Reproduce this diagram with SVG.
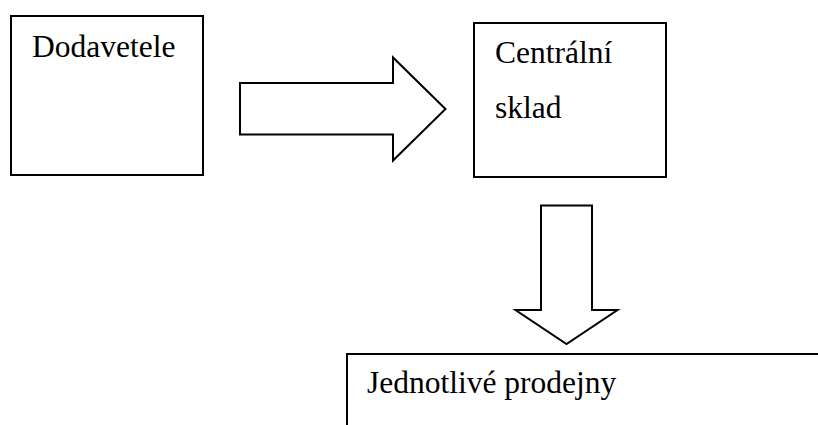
<svg xmlns="http://www.w3.org/2000/svg" width="818" height="425" viewBox="0 0 818 425">
<style>
.box{fill:#fff;stroke:#000;stroke-width:2}
.arr{fill:#fff;stroke:#000;stroke-width:2;stroke-linejoin:miter}
.t{font-family:'Liberation Serif','Times New Roman',serif;font-size:31.5px;fill:#000}
</style>
<rect width="818" height="425" fill="#fff"/>
<g id="dodavatele">
<rect class="box" x="11" y="16" width="192" height="159"/>
<text class="t" x="32" y="57">Dodavetele</text>
</g>
<g id="centralni-sklad">
<rect class="box" x="474" y="23" width="192" height="154"/>
<text class="t" x="495" y="63">Centrální</text>
<text class="t" x="495" y="118">sklad</text>
</g>
<g id="prodejny">
<path class="box" d="M347,426 V354 H819"/>
<text class="t" x="367" y="393">Jednotlivé prodejny</text>
</g>
<g id="connectors">
<polygon class="arr" points="240,83 393,83 393,57.5 445.5,109 393,160.5 393,134.5 240,134.5"/>
<polygon class="arr" points="541,205.5 592,205.5 592,310 617.5,310 566.5,344 515.5,310 541,310"/>
</g>
</svg>
